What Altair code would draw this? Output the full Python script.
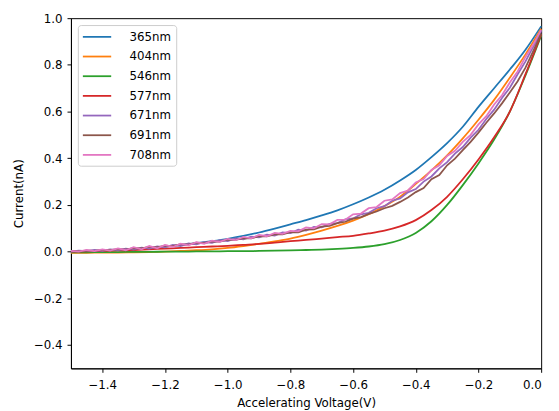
import altair as alt
import pandas as pd

# x grids (sample voltages)
voltage_coarse = [round(-1.5 + 0.05 * i, 3) for i in range(31)]
voltage_fine = [round(-1.5 + 0.025 * i, 3) for i in range(61)]

# smooth curves (sampled every 0.05 V)
i_365 = [0.000, 0.001, 0.003, 0.006, 0.010, 0.015, 0.021, 0.028, 0.036, 0.045,
         0.055, 0.067, 0.082, 0.099, 0.117, 0.135, 0.155, 0.177, 0.203, 0.232,
         0.265, 0.305, 0.350, 0.405, 0.465, 0.535, 0.620, 0.700, 0.780, 0.865, 0.965]
i_404 = [-0.005, -0.005, -0.004, -0.004, -0.003, -0.002, 0.000, 0.003, 0.006, 0.010,
         0.016, 0.024, 0.033, 0.044, 0.056, 0.072, 0.090, 0.110, 0.133, 0.160,
         0.195, 0.235, 0.290, 0.348, 0.412, 0.485, 0.565, 0.650, 0.745, 0.845, 0.955]
i_546 = [-0.003, -0.003, -0.002, -0.002, -0.001, -0.001, 0.000, 0.000, 0.001, 0.001,
         0.002, 0.002, 0.003, 0.004, 0.005, 0.007, 0.009, 0.012, 0.016, 0.022,
         0.032, 0.050, 0.080, 0.130, 0.200, 0.285, 0.378, 0.480, 0.600, 0.755, 0.925]
i_577 = [0.000, 0.001, 0.003, 0.005, 0.007, 0.010, 0.013, 0.016, 0.019, 0.022,
         0.025, 0.029, 0.033, 0.039, 0.045, 0.050, 0.056, 0.062, 0.068, 0.078,
         0.090, 0.108, 0.135, 0.178, 0.235, 0.310, 0.395, 0.490, 0.600, 0.760, 0.930]

# noisy curves (sampled every 0.025 V)
i_671 = [0.000, 0.004, 0.002, 0.007, 0.003, 0.010, 0.006, 0.013, 0.009, 0.017,
         0.013, 0.022, 0.018, 0.029, 0.024, 0.035, 0.031, 0.041, 0.038, 0.049,
         0.045, 0.057, 0.053, 0.064, 0.061, 0.073, 0.069, 0.082, 0.079, 0.094,
         0.090, 0.106, 0.104, 0.119, 0.122, 0.138, 0.142, 0.160, 0.166, 0.186,
         0.195, 0.218, 0.228, 0.254, 0.268, 0.300, 0.322, 0.357, 0.383, 0.420,
         0.448, 0.488, 0.522, 0.568, 0.608, 0.658, 0.702, 0.760, 0.815, 0.878, 0.945]
i_691 = [0.001, 0.001, 0.004, 0.003, 0.007, 0.006, 0.011, 0.009, 0.015, 0.014,
         0.020, 0.018, 0.026, 0.024, 0.032, 0.030, 0.038, 0.036, 0.044, 0.043,
         0.051, 0.050, 0.058, 0.057, 0.066, 0.065, 0.074, 0.074, 0.083, 0.083,
         0.094, 0.095, 0.107, 0.110, 0.122, 0.128, 0.141, 0.148, 0.162, 0.172,
         0.186, 0.196, 0.213, 0.232, 0.255, 0.272, 0.310, 0.328, 0.370, 0.398,
         0.435, 0.470, 0.510, 0.552, 0.592, 0.635, 0.682, 0.730, 0.788, 0.860, 0.935]
i_708 = [0.003, 0.000, 0.007, 0.002, 0.010, 0.004, 0.014, 0.006, 0.019, 0.010,
         0.024, 0.014, 0.029, 0.020, 0.034, 0.027, 0.041, 0.033, 0.047, 0.042,
         0.055, 0.049, 0.063, 0.057, 0.072, 0.066, 0.080, 0.076, 0.089, 0.087,
         0.104, 0.100, 0.118, 0.117, 0.136, 0.137, 0.160, 0.163, 0.186, 0.191,
         0.218, 0.224, 0.251, 0.262, 0.296, 0.311, 0.350, 0.370, 0.410, 0.432,
         0.470, 0.500, 0.545, 0.580, 0.630, 0.670, 0.724, 0.772, 0.834, 0.888, 0.950]

wavelengths = ["365nm", "404nm", "546nm", "577nm", "671nm", "691nm", "708nm"]
colors = ["#1f77b4", "#ff7f0e", "#2ca02c", "#d62728", "#9467bd", "#8c564b", "#e377c2"]
x_ticks = [-1.4, -1.2, -1.0, -0.8, -0.6, -0.4, -0.2, 0.0]
y_ticks = [-0.4, -0.2, 0.0, 0.2, 0.4, 0.6, 0.8, 1.0]

smooth_rows = []
for name, vals in zip(wavelengths[:4], [i_365, i_404, i_546, i_577]):
    for v, c in zip(voltage_coarse, vals):
        smooth_rows.append({"voltage": v, "current": c, "wavelength": name})
noisy_rows = []
for name, vals in zip(wavelengths[4:], [i_671, i_691, i_708]):
    for v, c in zip(voltage_fine, vals):
        noisy_rows.append({"voltage": v, "current": c, "wavelength": name})
smooth_df = pd.DataFrame(smooth_rows)
noisy_df = pd.DataFrame(noisy_rows)

minus_expr = "replace(format(datum.value, '.1f'), '-', '\u2212')"

x_enc = alt.X("voltage:Q",
              scale=alt.Scale(domain=[-1.5, 0.0], nice=False, zero=False),
              axis=alt.Axis(values=x_ticks, title="Accelerating Voltage(V)",
                            labelExpr=minus_expr, labelPadding=7, titlePadding=8))
y_enc = alt.Y("current:Q",
              scale=alt.Scale(domain=[-0.5, 1.0], nice=False, zero=False),
              axis=alt.Axis(values=y_ticks, title="Current(nA)",
                            labelExpr=minus_expr, labelPadding=5, titlePadding=8))
color_enc = alt.Color("wavelength:N",
                      scale=alt.Scale(domain=wavelengths, range=colors),
                      legend=alt.Legend(title=None, orient="none", legendX=7, legendY=7,
                                        symbolType="M-2.4,0H2.4", symbolSize=144,
                                        symbolStrokeWidth=1.8, symbolOffset=7.5,
                                        labelOffset=26, labelFont="DejaVu Sans",
                                        labelFontSize=12, labelColor="black",
                                        rowPadding=7, padding=5,
                                        strokeColor="#cccccc", fillColor="white",
                                        cornerRadius=3))

smooth = alt.Chart(smooth_df).mark_line(interpolate="monotone", strokeWidth=1.8).encode(
    x=x_enc, y=y_enc, color=color_enc)
noisy = alt.Chart(noisy_df).mark_line(strokeWidth=1.8).encode(
    x=x_enc, y=y_enc, color=color_enc)

chart = alt.layer(smooth, noisy).properties(
    width=478, height=356,
    autosize=alt.AutoSizeParams(type="none"),
    padding={"left": 64, "top": 7, "right": 10, "bottom": 40},
).configure_view(stroke="black", strokeWidth=1).configure_axis(
    labelFont="DejaVu Sans", labelFontSize=12, labelColor="black",
    titleFont="DejaVu Sans", titleFontSize=12, titleFontWeight="normal",
    titleColor="black", domainColor="black", tickColor="black",
    tickSize=4, grid=False)

chart.save("out.html", embed_options={"renderer": "svg", "actions": False})
